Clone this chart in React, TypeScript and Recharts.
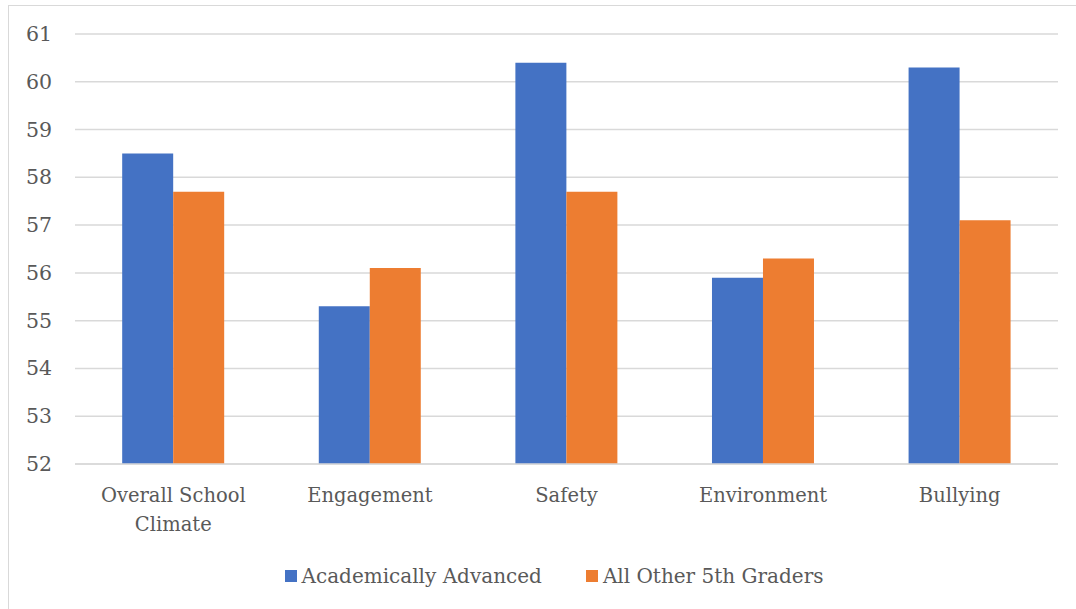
import React from 'react';
import { BarChart, Bar, XAxis, YAxis, CartesianGrid, Legend } from 'recharts';

const categories = ['Overall School Climate', 'Engagement', 'Safety', 'Environment', 'Bullying'];
const academicallyAdvanced = [58.5, 55.3, 60.4, 55.9, 60.3];
const allOther5thGraders = [57.7, 56.1, 57.7, 56.3, 57.1];
const yTicks = [52, 53, 54, 55, 56, 57, 58, 59, 60, 61];

const seriesNames = ['Academically Advanced', 'All Other 5th Graders'];
const seriesColors = ['#4472C4', '#ED7D31'];

const FONT = '"DejaVu Serif", serif';
const TEXT_COLOR = '#595959';
const GRID_COLOR = '#d9d9d9';

const chartData = categories.map((name, i) => ({
    name,
    [seriesNames[0]]: academicallyAdvanced[i],
    [seriesNames[1]]: allOther5thGraders[i],
}));

// simple word wrap for the category labels
const wrapLabel = (label: string, maxChars = 16) => {
    const words = label.split(' ');
    const lines: string[] = [];
    let cur = '';
    words.forEach((w) => {
        const next = cur ? `${cur} ${w}` : w;
        if (next.length > maxChars && cur) {
            lines.push(cur);
            cur = w;
        } else {
            cur = next;
        }
    });
    if (cur) lines.push(cur);
    return lines;
};

const CategoryTick = (props: any) => {
    const { x, y, payload } = props;
    const lines = wrapLabel(payload.value);
    return (
        <text x={x} y={y + 30} textAnchor="middle" fill={TEXT_COLOR} fontFamily={FONT} fontSize={19.5}>
            {lines.map((line, i) => (
                <tspan key={i} x={x} dy={i === 0 ? 0 : 29}>{line}</tspan>
            ))}
        </text>
    );
};

const ValueTick = (props: any) => {
    const { x, y, payload } = props;
    return (
        <text x={x} y={y} dy={7} textAnchor="end" fill={TEXT_COLOR} fontFamily={FONT} fontSize={20.5}>
            {payload.value}
        </text>
    );
};

const LegendContent = () => (
    <div style={{ display: 'flex', justifyContent: 'center', paddingTop: 19, paddingLeft: 50, fontFamily: FONT, fontSize: 20, color: TEXT_COLOR, lineHeight: '26px' }}>
        {seriesNames.map((name, i) => (
            <div key={name} style={{ display: 'flex', alignItems: 'center', marginRight: i === 0 ? 44 : 0 }}>
                <span style={{ display: 'inline-block', width: 12, height: 12, background: seriesColors[i], marginRight: 5 }} />
                <span>{name}</span>
            </div>
        ))}
    </div>
);

export default function App() {
    return (
        <div style={{ position: 'fixed', left: 0, top: 0, width: 1076, height: 609, background: '#fff', overflow: 'hidden' }}>
            <div style={{ position: 'absolute', left: 8, top: 5, width: 1100, height: 700, border: `1px solid ${GRID_COLOR}` }} />
            <BarChart
                width={1076}
                height={609}
                data={chartData}
                margin={{ top: 34, right: 18, bottom: 0, left: 0 }}
                barCategoryGap="24%"
                barGap={0}
            >
                <CartesianGrid vertical={false} stroke={GRID_COLOR} strokeWidth={1.5} />
                <XAxis
                    dataKey="name"
                    height={80}
                    tickLine={false}
                    axisLine={{ stroke: GRID_COLOR, strokeWidth: 1.5 }}
                    tick={<CategoryTick />}
                    interval={0}
                />
                <YAxis
                    width={75}
                    domain={[52, 61]}
                    ticks={yTicks}
                    tickLine={false}
                    axisLine={false}
                    tickSize={0}
                    tickMargin={23}
                    tick={<ValueTick />}
                />
                <Legend verticalAlign="bottom" height={65} content={<LegendContent />} />
                {seriesNames.map((name, i) => (
                    <Bar key={name} dataKey={name} fill={seriesColors[i]} isAnimationActive={false} />
                ))}
            </BarChart>
        </div>
    );
}
